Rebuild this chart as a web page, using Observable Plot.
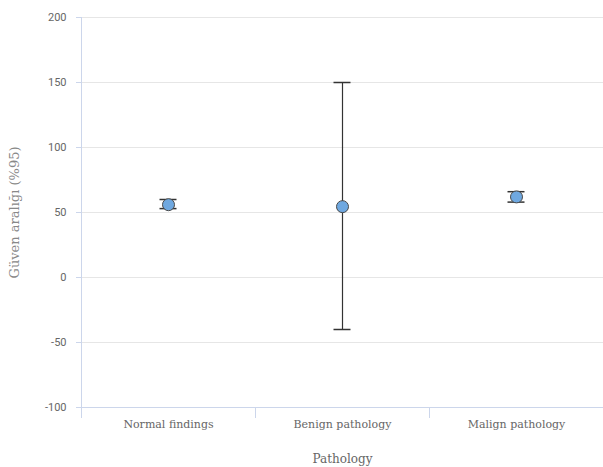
<!DOCTYPE html>
<html>
<head>
<meta charset="utf-8">
<script src="https://cdn.jsdelivr.net/npm/d3@7"></script>
<script src="https://cdn.jsdelivr.net/npm/@observablehq/plot@0.6"></script>
<style>
  html, body { margin: 0; padding: 0; background: #fff; }
  svg { display: block; }
</style>
</head>
<body>
<div id="chart"></div>
<script>
const categories = ["Normal findings", "Benign pathology", "Malign pathology"];
const means = [56, 54.5, 62];
const lower = [53, -40, 58];
const upper = [60, 150, 66];
const yTicks = [-100, -50, 0, 50, 100, 150, 200];

const data = categories.map((c, i) => ({cat: c, mean: means[i], lo: lower[i], hi: upper[i]}));

const W = 603, H = 467, mL = 81, mR = 0, mT = 17, mB = 60;
const axisColor = "#ccd6eb";
const capHalf = 8.5;
const band = (W - mL - mR) / categories.length;

function axisLines(index, scales, values, dims) {
  const g = d3.create("svg:g").attr("stroke", axisColor).attr("stroke-width", 1);
  const y0 = dims.height - dims.marginBottom;
  const xL = dims.marginLeft;
  // category separators
  for (let i = 0; i <= categories.length; i++) {
    const x = xL + i * (dims.width - dims.marginLeft - dims.marginRight) / categories.length;
    g.append("line").attr("x1", x + 0.5).attr("x2", x + 0.5).attr("y1", y0).attr("y2", y0 + 11);
  }
  // y axis line
  g.append("line").attr("x1", xL + 0.5).attr("x2", xL + 0.5).attr("y1", dims.marginTop).attr("y2", y0);
  // y ticks
  for (const v of yTicks) {
    const y = Math.round(scales.y(v)) + 0.5;
    g.append("line").attr("x1", xL - 5).attr("x2", xL).attr("y1", y).attr("y2", y);
  }
  return g.node();
}

const plot = Plot.plot({
  width: W, height: H,
  marginLeft: mL, marginRight: mR, marginTop: mT, marginBottom: mB,
  style: {fontFamily: "Roboto, sans-serif", background: "#fff"},
  x: {domain: categories, padding: 0, label: null},
  y: {domain: [-100, 200], label: null},
  marks: [
    Plot.gridY(yTicks, {stroke: "#e6e6e6", strokeOpacity: 1}),
    Plot.ruleY([-100], {stroke: axisColor}),
    axisLines,
    Plot.axisY(yTicks, {tickSize: 0, tickPadding: 15, fill: "#666", fontSize: 11,
      tickFormat: d => String(d), label: null}),
    Plot.axisX({tickSize: 0, tickPadding: 13, fill: "#666", fontSize: 11, fontFamily: "DejaVu Serif, serif", label: null}),
    Plot.ruleX(data, {x: "cat", y1: "lo", y2: "hi", stroke: "#333", strokeWidth: 1.2}),
    Plot.tickY(data, {x: "cat", y: "hi", stroke: "#333", strokeWidth: 1.5, insetLeft: band / 2 - capHalf, insetRight: band / 2 - capHalf}),
    Plot.tickY(data, {x: "cat", y: "lo", stroke: "#333", strokeWidth: 1.5, insetLeft: band / 2 - capHalf, insetRight: band / 2 - capHalf}),
    Plot.dot(data, {x: "cat", y: "mean", r: 6, fill: "#6fa8e0", stroke: "#4a4a4a", strokeWidth: 1}),
    Plot.text(["Güven aralığı (%95)"], {frameAnchor: "left", textAnchor: "middle", rotate: -90, dx: -67, fill: "#888", fontSize: 13, fontFamily: "DejaVu Serif, serif"}),
    Plot.text(["Pathology"], {frameAnchor: "bottom", dy: 55, fill: "#666", fontSize: 12, fontFamily: "DejaVu Serif, serif"})
  ]
});
document.getElementById("chart").appendChild(plot);
</script>
</body>
</html>
